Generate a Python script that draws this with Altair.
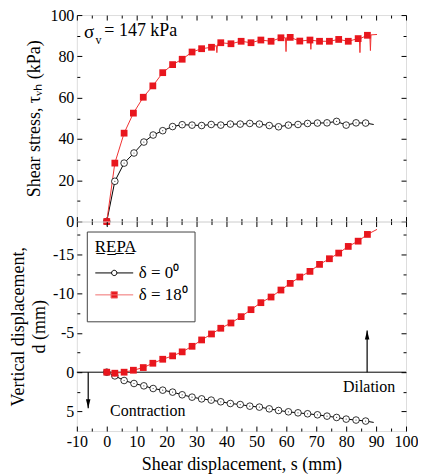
import altair as alt
import pandas as pd

FONT = "Liberation Serif, Times New Roman, serif"
RED = "#e8161d"
RED_LINE = "#f03232"

# ---------------- data ----------------
# delta = 0 deg series (open circles)
s0 = [0, 2.7, 5.8, 9.1, 12.4, 15.5, 18.7, 22.0, 25.2, 28.5, 31.7, 34.9, 38.1, 41.3,
      44.6, 47.8, 51.0, 54.3, 57.4, 60.7, 63.9, 67.1, 70.4, 73.6, 76.8, 80.0, 83.3, 86.5]
tau0 = [0, 19.5, 28.3, 33.2, 38.5, 41.9, 44.0, 46.0, 46.9, 46.7, 46.5, 47.0, 46.7, 47.2,
        47.2, 47.5, 47.2, 46.5, 45.9, 46.7, 47.0, 47.5, 47.7, 47.8, 48.5, 46.7, 47.8, 47.7]
d0 = [0, 0.47, 1.06, 1.44, 1.74, 2.08, 2.29, 2.54, 2.88, 3.18, 3.40, 3.56, 3.77, 3.99,
      4.12, 4.33, 4.45, 4.67, 4.88, 5.05, 5.18, 5.30, 5.43, 5.60, 5.77, 5.98, 6.10, 6.23]
s0_end, tau0_end, d0_end = 89.2, 47.0, 6.4

# delta = 18 deg series (filled squares)
s18 = [0, 2.7, 5.8, 8.9, 12.2, 15.4, 18.7, 22.0, 25.2, 28.5, 31.7, 35.0, 38.1, 41.5,
       44.9, 48.2, 51.5, 54.9, 58.2, 61.3, 64.5, 67.9, 71.1, 74.4, 77.5, 80.7, 84.0, 87.1]
tau18 = [0, 28.3, 42.8, 52.5, 60.2, 65.7, 72.1, 76.0, 78.6, 82.1, 83.7, 84.4, 86.6, 86.1,
         87.3, 86.6, 87.9, 87.3, 89.0, 89.2, 87.4, 87.9, 87.3, 87.3, 88.2, 87.3, 88.6, 90.2]
d18 = [0, 0.13, 0.0, -0.25, -0.59, -1.14, -1.65, -2.08, -2.59, -3.30, -4.11, -4.87, -5.60, -6.27,
       -7.08, -7.97, -8.86, -9.58, -10.47, -11.32, -12.13, -12.85, -13.74, -14.46, -15.18, -16.03, -16.70, -17.56]
s18_end, tau18_end, d18_end = 90.3, 90.6, -18.2
# narrow downward spikes in the noisy shear-stress record: (before, bottom, after)
s18_spike = [36.6, 36.8, 37.0, 59.7, 59.9, 60.1, 68.0, 68.2, 68.4, 84.4, 84.6, 84.8, 87.9, 88.1, 88.3]
tau18_spike = [85.2, 81.8, 85.6, 89.0, 82.3, 89.1, 87.8, 83.4, 87.8, 88.5, 81.8, 88.7, 90.3, 82.8, 90.4]

legend_title = "R\u0332E\u0332P\u0332A\u0332"
legend_labels = ["\u03b4 = 0\u2070", "\u03b4 = 18\u2070"]
legend_blank = "\u2800\u2800\u2800\u2800"   # empty row of the boxed legend, as wide as the longest label

x_major = [-10, 0, 10, 20, 30, 40, 50, 60, 70, 80, 90, 100]
x_minor = [-5, 5, 15, 25, 35, 45, 55, 65, 75, 85, 95]
y1_major = [0, 20, 40, 60, 80, 100]
y1_minor = [10, 30, 50, 70, 90]
y2_major = [-15, -10, -5, 0, 5]
y2_minor = [-17.5, -12.5, -7.5, -2.5, 2.5]

# annotation texts
top_note_s = [-7.6, -3.8, -0.8]
top_note_v = [92.0, 88.0, 92.3]
top_note_t = ["\u03c3", "v", "= 147 kPa"]
top_note_fs = [19, 12, 18]
bot_note_s = [1.1, 96.4]
bot_note_v = [4.9, 1.9]
bot_note_t = ["Contraction", "Dilation"]
bot_note_al = ["left", "right"]
arrow_s = [-6.2, 87.0]
arrow_from = [0.0, 0.0]
arrow_to = [4.6, -5.3]
arrow_dir = ["down", "up"]

# ---------------- layout ----------------
W = 330
H1 = 207
H2 = 210

x_scale = alt.Scale(domain=[-10, 100], nice=False, zero=False)
y1_scale = alt.Scale(domain=[0, 100], nice=False, zero=False)
y2_scale = alt.Scale(domain=[-19.2, 7.5], nice=False, zero=False, reverse=True)

LABEL_EXPR = "replace(datum.label, '\u2212', '-')"


def tick_axis(orient, values, size, offset):
    return alt.Axis(orient=orient, values=values, tickSize=size, ticks=True, labels=False,
                    domain=False, grid=False, offset=offset, title=None, minExtent=0,
                    tickColor="black", tickWidth=1)


def label_axis(orient, values, title, title_x=None, padding=3, title_padding=6):
    kw = dict(orient=orient, values=values, ticks=False, labels=True, domain=False, grid=False,
              labelFont=FONT, labelFontSize=16, labelColor="black", labelPadding=padding,
              labelExpr=LABEL_EXPR, labelFlush=False, labelOverlap=False,
              title=title, titleFont=FONT, titleFontSize=18,
              titleFontWeight="normal", titleColor="black", titlePadding=title_padding,
              minExtent=0)
    if title_x is not None:
        kw.update(titleX=title_x, titleBaseline="middle", titleLineHeight=21)
    return alt.Axis(**kw)


def axes_for(H, y_major, y_minor, x_labels, y_labels):
    xa = [x_labels,
          tick_axis("top", x_major, 5, -H),
          tick_axis("top", x_minor, 3, -H),
          tick_axis("bottom", x_major, 5, -H),
          tick_axis("bottom", x_minor, 3, -H)]
    ya = [y_labels,
          tick_axis("right", y_major, 5, -W),
          tick_axis("right", y_minor, 3, -W),
          tick_axis("left", y_major, 5, -W),
          tick_axis("left", y_minor, 3, -W)]
    return xa, ya


def series_layers(yscale, xa, ya, v0, v0_end, v18, v18_end, spike_s=(), spike_v=()):
    pts0 = pd.DataFrame({"s": s0, "v": v0})
    line0 = pd.DataFrame({"s": s0 + [s0_end], "v": v0 + [v0_end]})
    pts18 = pd.DataFrame({"s": s18, "v": v18})
    line18 = pd.DataFrame({"s": s18 + [s18_end] + list(spike_s),
                           "v": v18 + [v18_end] + list(spike_v)}).sort_values("s")

    def enc(i):
        return dict(x=alt.X("s:Q", scale=x_scale, axis=xa[i]),
                    y=alt.Y("v:Q", scale=yscale, axis=ya[i]))

    layers = [
        alt.Chart(line0).mark_line(color="black", strokeWidth=1).encode(**enc(0)),
        alt.Chart(line18).mark_line(color=RED_LINE, strokeWidth=1).encode(**enc(1)),
        alt.Chart(pts0).mark_point(shape="circle", filled=True, fill="white", stroke="black",
                                   strokeWidth=0.8, size=44, opacity=1).encode(**enc(2)),
        alt.Chart(pts0).mark_point(shape="circle", filled=True, color="black",
                                   size=1.5).encode(**enc(3)),
        alt.Chart(pts18).mark_square(color=RED, size=46, opacity=1).encode(**enc(4)),
    ]
    return layers


# ---------------- top panel ----------------
xa1, ya1 = axes_for(H1, y1_major, y1_minor, None,
                    label_axis("left", y1_major, "Shear stress, \u03c4\u1d65\u2095 (kPa)", title_x=-42))
top_layers = series_layers(y1_scale, xa1, ya1, tau0, tau0_end, tau18, tau18_end,
                           s18_spike, tau18_spike)
top_note = pd.DataFrame({"s": top_note_s, "v": top_note_v, "t": top_note_t, "fs": top_note_fs})
top_layers.append(
    alt.Chart(top_note).mark_text(font=FONT, color="black", align="left", baseline="middle").encode(
        x=alt.X("s:Q", scale=x_scale, axis=None),
        y=alt.Y("v:Q", scale=y1_scale, axis=None),
        text="t:N",
        size=alt.Size("fs:Q", scale=None, legend=None),
    )
)
top = alt.layer(*top_layers).resolve_axis(x="independent", y="independent").properties(
    width=W, height=H1)

# ---------------- bottom panel ----------------
xa2, ya2 = axes_for(H2, y2_major, y2_minor,
                    label_axis("bottom", x_major, "Shear displacement, s (mm)", padding=2,
                               title_padding=7),
                    label_axis("left", y2_major, ["Vertical displacement,", "d (mm)"], title_x=-58))

zero_df = pd.DataFrame({"v": [0]})
zero_rule = alt.Chart(zero_df).mark_rule(color="black", strokeWidth=1).encode(
    y=alt.Y("v:Q", scale=y2_scale, axis=None))

arrow_df = pd.DataFrame({"s": arrow_s, "v0": arrow_from, "v1": arrow_to, "dir": arrow_dir})
arrow_lines = alt.Chart(arrow_df).mark_rule(color="black", strokeWidth=1.2).encode(
    x=alt.X("s:Q", scale=x_scale, axis=None),
    y=alt.Y("v0:Q", scale=y2_scale, axis=None),
    y2="v1:Q")
arrow_heads = alt.Chart(arrow_df).mark_point(filled=True, color="black", size=324, opacity=1).encode(
    x=alt.X("s:Q", scale=x_scale, axis=None),
    y=alt.Y("v1:Q", scale=y2_scale, axis=None),
    shape=alt.Shape("dir:N", scale=alt.Scale(domain=["down", "up"],
                                             range=["M0,0L-0.25,-1L0.25,-1Z", "M0,0L-0.25,1L0.25,1Z"]),
                    legend=None))

bot_note = pd.DataFrame({"s": bot_note_s, "v": bot_note_v, "t": bot_note_t, "al": bot_note_al})
bot_texts = [
    alt.Chart(bot_note[bot_note.al == al]).mark_text(font=FONT, fontSize=16, color="black",
                                                     align=al, baseline="middle").encode(
        x=alt.X("s:Q", scale=x_scale, axis=None),
        y=alt.Y("v:Q", scale=y2_scale, axis=None),
        text="t:N")
    for al in ["left", "right"]
]

bot_series = series_layers(y2_scale, xa2, ya2, d0, d0_end, d18, d18_end)

# legend: a boxed legend (title + delta=0 row + empty row) with the delta=18 entry laid over
# its second row, so each entry keeps its own symbol colours.
PATH0 = "M-1,0H-0.14M0.14,0H1M-0.14,0A0.14,0.14,0,1,1,0.14,0A0.14,0.14,0,1,1,-0.14,0Z"
PATH18 = "M-1,0H1M-0.17,-0.17H0.17V0.17H-0.17Z"
LEG_X, LEG_Y = 10, 10
common_leg = dict(orient="none", labelFont=FONT, labelFontSize=17, labelColor="black",
                  rowPadding=4, labelOffset=5, symbolSize=1444, symbolStrokeWidth=1,
                  symbolOpacity=1)
legA = alt.Legend(title=legend_title, legendX=LEG_X, legendY=LEG_Y, padding=8,
                  strokeColor="#444444", fillColor="white",
                  titleFont=FONT, titleFontSize=17, titleFontWeight="normal", titleColor="black",
                  titlePadding=-3, zindex=1, **common_leg)
legB = alt.Legend(title=None, legendX=LEG_X + 8, legendY=LEG_Y + 44, padding=0,
                  zindex=2, **common_leg)
legend_df = pd.DataFrame({"series": legend_labels})
legend_a = alt.Chart(legend_df).mark_point(filled=True, fill="white", stroke="black", strokeWidth=1,
                                           opacity=0, size=1444).encode(
    shape=alt.Shape("series:N", scale=alt.Scale(domain=[legend_labels[0], legend_blank],
                                                range=[PATH0, "M0,0"]),
                    legend=legA))
legend_b = alt.Chart(legend_df).mark_point(filled=True, fill=RED, stroke="#f07070", strokeWidth=1,
                                           opacity=0, size=1444).encode(
    shape=alt.Shape("series:N", scale=alt.Scale(domain=[legend_labels[1]], range=[PATH18]),
                    legend=legB))

bottom = alt.layer(zero_rule, arrow_lines, arrow_heads, *bot_series, *bot_texts,
                   legend_a, legend_b).resolve_axis(x="independent", y="independent").resolve_scale(
    shape="independent").properties(width=W, height=H2)

chart = alt.vconcat(top, bottom, spacing=0, bounds="flush").properties(
    padding={"left": 1, "top": -2.5, "right": -1, "bottom": 0},
    background="white",
).configure_view(stroke="black", strokeWidth=1).configure(font=FONT)

chart.save("out.html", embed_options={"renderer": "svg", "actions": False})
